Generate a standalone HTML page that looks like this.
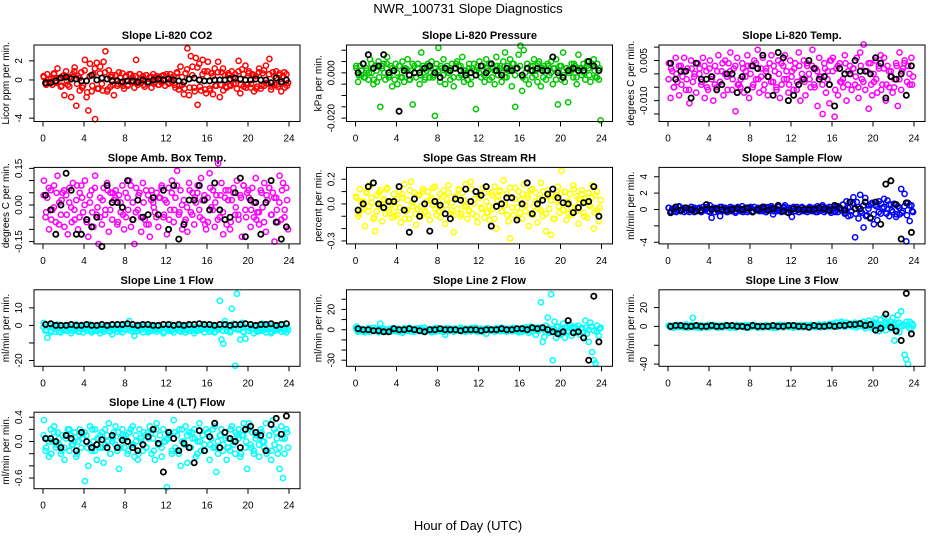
<!DOCTYPE html>
<html><head><meta charset="utf-8"><title>NWR_100731 Slope Diagnostics</title>
<style>
html,body{margin:0;padding:0;background:#fff;}
svg{display:block;font-family:"Liberation Sans",Arial,sans-serif;}
</style></head>
<body>
<svg id="chart" width="936" height="540" viewBox="0 0 936 540" xmlns="http://www.w3.org/2000/svg">
<rect x="0" y="0" width="936" height="540" fill="#fff"/>
<text x="468" y="13" text-anchor="middle" font-size="13">NWR_100731  Slope Diagnostics</text>
<text x="468" y="530" text-anchor="middle" font-size="13">Hour of Day (UTC)</text>
</svg>
<script>
const xTicks = [0,4,8,12,16,20,24];
const xTickLabels = ["0","4","8","12","16","20","24"];

const co2Color = [0.3,-0.4,0.6,-0.2,0.1,-0.5, 0.7,-0.3,1.2,0.2,-0.7,0.4, -1.6,0.9,-0.5,0.3,-1.8,0.6, 1.3,-2.7,0.4,-1.1,0.8,-0.6, 2.1,-1.8,-3.2,1.7,-1.2,0.6, -4.1,1.8,-0.9,1.4,-0.4,1.9, 3.0,-1.2,1.0,-0.7,0.5,-1.6, 0.5,-0.6,0.8,-0.3,0.7,-0.9, 0.4,-0.6,0.6,-0.2,0.3,-0.8, 2.1,-0.5,0.6,-0.3,0.4,-0.7, 0.5,-0.4,0.3,-0.8,0.6,-0.2, 0.4,-0.5,0.2,-0.3,0.5,-0.6, 0.3,-0.4,0.6,-0.2,0.4,-0.8, 0.8,-1.0,1.4,-0.5,-1.5,0.7, 3.3,-1.6,2.5,1.4,-0.8,2.3, -2.6,1.7,-1.1,2.1,0.9,-1.4, 1.9,-0.9,0.7,-1.5,1.2,-0.6, 1.9,-1.8,0.8,-1.1,0.5,-0.8, 0.7,-0.5,0.9,-0.4,0.6,-0.9, 2.0,-1.4,1.1,-0.7,1.5,-0.5, 0.9,-0.8,0.6,-1.2,0.4,-0.7, 1.2,-0.9,0.7,-0.6,1.5,-0.4, 2.2,-1.0,0.8,-0.5,0.9,-0.7, 0.7,-1.2,0.4,-0.8,0.6,-0.3];
const co2Color2 = [0.4,-0.5,0.1,-0.2, 0.6,-0.3,0.2,-0.6, 0.5,-0.1,-0.7,0.3, 0.9,-0.4,0.2,-0.8, 1.0,-1.3,0.4,-0.6, 1.2,-0.9,0.7,-1.1, 0.8,-1.0,0.3,-0.5, 0.5,-0.4,0.2,-0.6, 0.3,-0.5,0.6,-0.2, 0.4,-0.3,0.1,-0.5, 0.5,-0.2,0.3,-0.4, 0.2,-0.5,0.4,-0.1, 0.6,-0.3,0.2,-0.5, 0.7,-0.6,0.3,-0.9, 1.1,-0.8,0.5,-1.2, 1.3,-0.7,0.6,-1.0, 0.9,-1.1,0.4,-0.6, 0.8,-0.5,1.2,-0.7, 0.5,-0.6,0.3,-0.4, 0.9,-0.5,0.6,-0.8, 0.7,-0.4,0.5,-0.9, 0.8,-0.6,1.0,-0.3, 0.6,-0.7,0.4,-0.5, 0.5,-0.4,0.8,-0.6];
const co2Black = [-0.3,-0.3,-0.1,0.2,0.3,0.1,0.1,-0.1,-0.1,0.5,0.0,0.2,0.1,-0.1,-0.1,-0.2,-0.1,-0.1,-0.2,0.0,-0.2,0.0,0.1,0.0,0.1,0.0,-0.1,-0.2,0.1,0.2,0.0,-0.1,-0.1,0.0,0.0,0.0,0.1,0.2,0.1,0.0,0.0,0.1,0.0,0.0,-0.3,0.2,-0.2,0.0];

const presColor = [0.002,-0.004,0.003,-0.001,0.004,-0.002, 0.001,-0.003,0.006,0.000,-0.005,0.003, -0.004,0.005,-0.015,0.002,0.004,-0.003, 0.007,-0.002,0.003,-0.006,0.001,0.004, -0.005,0.003,-0.002,0.005,-0.004,0.002, 0.006,-0.003,0.001,-0.014,0.003,-0.002, 0.004,-0.005,0.009,0.002,-0.003,0.001, 0.003,-0.002,0.005,-0.001,-0.019,0.004, 0.011,-0.004,0.002,0.006,-0.005,0.003, 0.001,-0.003,0.004,-0.006,0.002,0.005, -0.002,0.003,0.007,-0.004,0.001,-0.003, 0.004,-0.005,0.002,0.001,-0.016,0.003, 0.005,-0.002,0.003,-0.004,0.006,0.001, -0.003,0.004,0.002,-0.005,0.007,-0.001, 0.003,-0.004,0.005,0.009,-0.002,0.001, 0.006,-0.006,0.004,-0.015,0.002,0.008, 0.012,-0.008,0.010,-0.003,0.004,-0.005, 0.003,-0.002,0.006,0.001,-0.004,0.005, -0.006,0.002,0.003,-0.003,0.004,-0.001, 0.005,-0.005,0.002,0.006,-0.014,0.003, -0.003,0.009,-0.004,0.002,-0.013,0.001, 0.004,-0.002,0.003,-0.005,0.008,0.002, -0.001,0.004,-0.003,0.005,0.002,-0.004, 0.003,0.006,-0.002,0.004,-0.003,-0.021];
const presColor2 = [0.003,-0.001,0.001,-0.002, 0.002,0.000,0.004,-0.003, 0.001,-0.002,0.003,0.000, 0.004,-0.001,0.002,-0.003, 0.000,0.003,-0.002,0.002, 0.001,-0.003,0.004,0.000, 0.002,-0.001,0.003,-0.002, 0.004,0.000,-0.002,0.002, 0.001,0.003,-0.001,0.002, 0.000,0.002,-0.002,0.004, 0.003,-0.001,0.001,0.000, 0.002,-0.002,0.004,0.001, 0.000,0.003,-0.001,0.002, 0.004,-0.002,0.001,0.003, 0.002,0.000,-0.002,0.003, 0.001,0.004,-0.001,0.002, 0.003,-0.002,0.000,0.002, 0.001,0.003,-0.001,0.004, 0.002,-0.002,0.001,0.003, 0.000,0.002,-0.003,0.001, 0.003,-0.001,0.002,0.000, 0.001,0.004,-0.002,0.002, 0.002,0.000,0.003,-0.001, 0.004,0.001,-0.002,0.002];
const presBlack = [0.000,0.004,0.008,0.002,0.003,0.008,0.000,0.001,-0.017,0.001,-0.001,0.000,0.000,0.002,0.003,0.000,-0.002,0.002,0.001,0.002,0.001,-0.001,0.000,-0.001,0.003,0.000,0.004,0.001,-0.001,0.002,0.001,0.002,-0.001,0.002,0.001,0.002,0.001,0.001,0.007,0.000,-0.002,0.001,0.002,0.001,0.001,0.005,0.003,0.001];

const tempColor = [0.004,-0.009,0.001,-0.005,0.006,-0.003, -0.008,0.003,-0.001,0.006,-0.006,0.002, -0.011,0.005,-0.003,0.000,-0.007,0.004, 0.002,-0.004,0.006,-0.009,0.001,-0.006, 0.005,-0.002,-0.010,0.003,-0.005,0.007, -0.003,0.001,-0.008,0.005,-0.001,0.004, 0.008,-0.006,0.002,-0.014,0.006,-0.004, -0.002,0.004,-0.007,0.001,0.007,-0.009, 0.003,-0.005,0.005,-0.002,0.009,-0.007, -0.001,0.006,-0.004,0.002,-0.008,0.004, 0.007,-0.003,0.001,-0.006,0.005,-0.009, -0.004,0.003,0.007,-0.002,-0.007,0.005, 0.001,-0.006,0.004,-0.003,0.008,-0.010, -0.002,0.005,-0.008,0.003,0.000,-0.005, 0.009,-0.004,0.002,-0.012,0.006,-0.001, -0.015,0.004,-0.007,0.001,-0.011,0.005, 0.006,-0.016,0.002,-0.008,0.004,-0.003, -0.005,0.007,-0.010,0.001,0.003,-0.006, 0.002,-0.004,0.006,-0.009,0.008,-0.002, 0.011,-0.006,0.001,-0.013,0.004,-0.008, -0.003,0.005,-0.007,0.002,0.007,-0.004, 0.006,-0.010,0.003,-0.005,0.001,-0.007, -0.002,0.004,-0.012,0.008,-0.006,0.002, 0.005,-0.008,0.003,-0.004,0.006,-0.001];
const tempColor2 = [-0.002,0.002,-0.005,0.000, 0.003,-0.004,0.001,-0.002, -0.006,0.002,-0.001,0.004, 0.000,-0.003,0.003,-0.005, 0.002,-0.001,-0.004,0.001, -0.003,0.004,0.000,-0.006, 0.001,-0.002,0.003,-0.004, -0.005,0.002,-0.001,0.003, 0.000,-0.004,0.004,-0.002, 0.002,-0.006,0.001,-0.001, -0.003,0.003,-0.005,0.000, 0.004,-0.002,0.001,-0.004, -0.001,0.002,-0.006,0.003, 0.000,-0.003,0.004,-0.002, 0.003,-0.005,0.001,-0.001, -0.004,0.002,-0.002,0.005, 0.001,-0.006,0.003,-0.003, -0.002,0.004,-0.004,0.000, 0.002,-0.001,-0.005,0.003, -0.003,0.001,0.004,-0.004, 0.000,-0.002,0.003,-0.006, 0.002,-0.004,0.001,-0.001, -0.005,0.003,-0.002,0.001, 0.004,-0.003,0.000,-0.004];
const tempBlack = [0.004,-0.002,0.001,0.001,-0.009,0.004,-0.002,-0.002,-0.001,-0.006,-0.004,0.000,0.000,-0.007,-0.001,-0.006,0.003,0.002,0.007,-0.001,-0.008,0.008,0.006,-0.010,-0.008,-0.004,-0.002,0.005,0.002,-0.002,-0.001,-0.004,-0.012,0.002,0.000,0.000,0.005,0.001,0.001,0.000,0.006,0.004,-0.009,-0.001,-0.002,0.000,-0.008,0.003];

const ambColor = [0.10,-0.05,0.03,-0.10,0.06,-0.02, 0.08,-0.07,0.12,0.01,-0.04,0.05, -0.09,0.04,-0.12,0.07,-0.01,0.09, -0.06,0.02,-0.10,0.05,0.08,-0.03, 0.10,-0.07,-0.13,0.01,0.06,-0.09, 0.12,-0.04,-0.16,0.03,-0.08,0.07, -0.02,0.09,-0.11,0.05,-0.06,0.02, 0.06,-0.08,0.04,-0.03,0.08,-0.10, -0.05,0.03,0.10,-0.09,0.01,-0.16, 0.07,-0.02,0.05,-0.11,0.09,-0.06, -0.08,0.04,-0.13,0.06,0.01,-0.03, 0.05,-0.09,0.03,0.08,-0.05,0.02, -0.12,0.07,-0.02,0.10,-0.07,0.03, 0.14,-0.04,0.06,-0.10,0.02,-0.06, -0.11,0.09,-0.03,0.05,-0.08,0.01, 0.08,-0.02,0.11,-0.06,0.04,-0.10, -0.07,0.13,-0.01,0.06,-0.09,0.04, 0.17,-0.05,0.09,-0.12,0.03,-0.08, 0.06,-0.10,0.02,0.07,-0.04,0.10, -0.06,0.04,-0.13,0.08,-0.02,0.05, 0.03,-0.09,0.07,-0.05,0.11,-0.03, -0.08,0.06,-0.01,0.09,-0.11,0.02, 0.07,-0.04,0.05,-0.15,0.03,-0.07, 0.12,-0.06,0.09,-0.02,0.07,-0.10];
const ambColor2 = [0.04,-0.03,0.07,-0.06, -0.01,0.05,-0.08,0.02, 0.06,-0.04,0.01,-0.07, -0.02,0.08,-0.05,0.03, 0.00,-0.06,0.04,-0.03, 0.07,-0.01,-0.05,0.02, -0.04,0.06,-0.02,0.05, 0.03,-0.07,0.01,-0.04, 0.05,-0.02,0.08,-0.06, -0.03,0.04,-0.05,0.01, 0.06,-0.08,0.02,-0.01, -0.05,0.03,0.07,-0.04, 0.01,-0.06,0.05,-0.02, 0.08,-0.03,0.00,-0.07, -0.01,0.06,-0.04,0.03, 0.05,-0.05,0.02,-0.08, 0.03,0.07,-0.02,0.01, -0.06,0.04,-0.03,0.06, 0.02,-0.07,0.05,-0.01, -0.04,0.03,0.08,-0.05, 0.06,-0.02,0.01,-0.06, -0.03,0.05,-0.07,0.04, 0.07,-0.04,0.03,-0.02, 0.01,0.06,-0.05,0.02];
const ambBlack = [0.04,-0.02,-0.12,0.00,0.13,0.06,-0.12,-0.12,-0.06,-0.09,-0.05,-0.17,0.08,0.01,0.01,-0.01,0.10,-0.06,0.02,-0.05,-0.04,0.03,-0.04,0.06,-0.10,0.08,-0.14,-0.08,0.02,0.02,0.08,0.02,-0.02,0.09,-0.02,-0.06,-0.05,0.05,0.11,-0.13,0.02,0.01,-0.12,0.01,0.10,-0.07,-0.14,-0.09];

const rhColor = [0.05,-0.10,0.12,-0.04,0.02,-0.18, 0.09,-0.06,0.15,0.01,-0.12,-0.22, 0.07,-0.02,0.11,-0.14,0.04,-0.08, 0.13,-0.05,0.02,-0.11,0.08,-0.03, -0.09,0.10,-0.15,0.05,0.16,-0.06, 0.03,-0.12,0.18,-0.02,0.09,-0.17, -0.04,0.07,-0.10,0.12,-0.07,0.02, 0.10,-0.13,0.05,-0.01,0.14,-0.09, -0.06,0.08,-0.03,0.11,-0.16,0.04, 0.15,-0.08,0.01,-0.23,0.06,-0.04, 0.12,-0.10,0.09,-0.02,0.16,-0.12, -0.05,0.18,-0.08,0.04,0.10,-0.15, 0.07,-0.03,0.13,-0.11,0.02,-0.07, -0.13,0.09,-0.04,0.14,-0.20,0.06, 0.11,-0.06,0.19,-0.01,0.08,-0.14, -0.28,0.05,-0.09,0.13,-0.03,0.10, 0.03,-0.12,0.16,-0.06,0.07,-0.18, -0.08,0.12,-0.02,0.09,-0.15,0.04, 0.17,-0.10,0.06,-0.22,0.11,-0.04, -0.25,0.08,-0.12,0.03,0.14,-0.07, 0.27,-0.05,0.10,-0.13,0.02,0.08, -0.09,0.15,-0.03,0.06,-0.16,0.01, 0.11,-0.07,0.04,-0.11,0.09,-0.02, 0.15,-0.20,0.07,-0.05,-0.14,0.03];
const rhColor2 = [0.06,-0.08,0.02,-0.04, 0.10,-0.02,0.05,-0.11, -0.06,0.09,-0.01,0.03, 0.12,-0.07,0.00,-0.10, 0.04,-0.03,0.08,-0.12, -0.05,0.11,0.01,-0.08, 0.07,-0.02,0.10,-0.06, -0.09,0.03,0.13,-0.04, 0.02,-0.11,0.06,-0.01, 0.09,-0.05,-0.09,0.04, 0.11,-0.08,0.03,-0.02, -0.06,0.12,0.00,-0.10, 0.05,-0.04,0.09,-0.07, -0.02,0.07,-0.12,0.03, 0.10,-0.06,0.01,-0.09, 0.13,-0.03,0.04,-0.11, -0.07,0.08,-0.01,0.05, 0.11,-0.09,0.02,-0.04, -0.05,0.10,-0.08,0.06, 0.03,-0.12,0.07,-0.02, 0.09,-0.05,0.01,-0.08, -0.03,0.12,-0.06,0.04, 0.08,-0.10,0.02,-0.01, 0.05,-0.07,0.10,-0.03];
const rhBlack = [-0.05,0.00,0.14,0.17,0.00,-0.03,0.02,0.02,0.14,-0.05,-0.23,0.04,-0.10,0.00,-0.22,0.02,-0.01,-0.08,-0.12,0.04,0.03,0.12,0.02,0.10,0.07,0.14,-0.18,-0.02,0.00,0.05,0.05,-0.13,0.00,0.17,-0.08,0.00,0.03,0.08,0.12,0.05,0.01,0.00,-0.07,-0.03,0.01,0.02,0.14,-0.10];

const sampleColor = [0.2,-0.3,0.1,-0.2,0.3,-0.1, 0.4,-0.2,0.1,-0.3,0.2,0.0, -0.3,0.3,-0.1,0.2,-0.2,0.1, 0.2,-0.3,0.3,-0.1,0.1,-0.2, 0.5,-1.0,0.2,-0.3,0.1,-0.2, -0.8,0.3,-0.1,0.2,-0.3,0.1, 0.3,-0.2,0.1,-0.4,0.2,0.0, -0.2,0.4,-0.1,0.2,-0.3,0.1, 0.2,-0.3,0.3,-0.1,0.1,-0.2, 0.1,-0.2,0.3,-0.3,0.2,-0.1, 0.4,-0.6,0.1,-0.2,0.3,-0.1, -0.2,0.2,0.5,-0.3,0.1,-0.1, -0.9,0.3,-0.2,0.1,-0.3,0.2, 0.3,-0.2,0.1,-0.3,0.2,-0.1, -0.1,0.2,-0.3,0.4,-0.2,0.1, 0.5,-0.3,0.2,-0.1,0.3,-0.4, 0.1,-0.2,0.4,-0.3,0.2,-0.1, 0.6,-0.5,1.0,-0.8,0.3,-0.2, 1.5,-3.4,0.9,-1.1,1.8,-0.4, -2.2,1.4,-0.7,0.5,-1.1,0.8, -1.8,0.6,-1.3,1.0,-0.5,0.2, 1.3,-0.4,1.1,-0.8,0.6,-0.3, 0.7,-0.9,0.4,-0.6,2.5,-0.2, 1.9,-3.9,0.8,-1.4,0.5,-0.3];
const sampleColor2 = [0.2,-0.2,0.1,-0.3, 0.3,-0.1,0.2,-0.2, -0.1,0.3,-0.3,0.1, 0.2,-0.2,0.0,0.3, -0.3,0.1,0.2,-0.1, 0.3,-0.2,0.1,-0.3, 0.0,0.2,-0.2,0.3, 0.1,-0.3,0.2,-0.1, 0.3,-0.2,0.0,0.2, -0.1,0.1,-0.3,0.3, 0.2,-0.2,0.1,-0.1, -0.3,0.3,0.0,0.2, 0.1,-0.2,0.3,-0.3, 0.2,0.0,-0.1,0.3, -0.2,0.2,-0.3,0.1, 0.3,-0.1,0.2,-0.2, 0.1,-0.3,0.4,0.0, 0.6,-0.4,0.2,-0.7, 0.8,-0.5,0.3,-0.2, 0.5,-0.8,0.1,0.6, -0.6,0.4,-0.3,0.7, 0.3,-0.5,0.6,-0.1, 0.7,-0.6,0.2,-0.4, 0.4,-0.7,0.5,-0.2];
const sampleBlack = [-0.4,0.3,-0.1,0.2,0.0,-0.2,-0.1,0.6,0.0,0.1,0.0,-0.1,0.0,0.1,0.0,0.2,-0.3,0.0,0.3,-0.1,0.1,0.5,-0.2,-0.4,0.1,0.0,0.0,0.0,0.0,0.2,0.1,-0.1,0.5,0.2,-0.1,0.9,0.1,0.1,0.9,-1.0,0.9,-1.8,3.1,3.5,0.6,-3.6,0.8,-2.8];

const line1Color = [1.5,-3,-7,0,-4,-1, -2,-3.5,0.5,-1,-4,-2.5, -1,-3,0,-2,-4.5,-1.5, -2.5,0.5,-3.5,-1,-2,-4, -1.5,-3,0,-2.5,-4,-1, -3,-0.5,-2,-4.5,-1,-3.5, -2,0,-3,-1.5,-5,-2.5, -1,-3.5,0.5,-2,-4,-1.5, -2.5,-0.5,2.5,-3,-1,-6, -1.5,-3,0,-2.5,-4,-1, -2,-4,-0.5,-3,-1.5,-2.5, -3.5,0,-2,-1,-4.5,-1.5, -1,-3,0.5,-2.5,-4,-2, -2,-0.5,-3.5,-1,-2.5,-4, -1.5,-3,0,-2,-4.5,-1, -3,-1,-2.5,0.5,-4,-2, -1,-3.5,-0.5,-2,-4,-1.5, -2.5,14,-8,-10.5,2.5,-3, -1,-4,9.5,1,-23,18, -2,-8,1.5,-4,-7.5,-1, -3,0.5,-2,-4.5,-1,-3.5, -1.5,-3,1,-2.5,-4,-0.5, -2,-4.5,0,-3,-1.5,-2.5, -1,-3.5,0.5,-2,-4,-2.5];
const line1Color2 = [-1,-2.5,0,-3, -2,-0.5,-3.5,-1.5, -2.5,0,-1,-3, -0.5,-2,-3.5,-1, -2,-1,0.5,-3, -1.5,-3,-0.5,-2, -2.5,-1,-3.5,0, -1,-2,-3,-0.5, -2,0,-1.5,-3.5, -3,-1,-2.5,-0.5, -1.5,-3,0,-2, -0.5,-2.5,-1,-3.5, -2,-1,-3,0, -1,-3,-2,-0.5, -2.5,0,-1.5,-3, -3,-1,-2,-0.5, -1.5,-2.5,0,-3.5, -2,-1,-3,0.5, -0.5,-3,-1.5,-2, -2.5,0,-3.5,-1, -1,-2,-0.5,-3, -3,-1.5,0,-2, -1.5,-3.5,-0.5,-2.5, -2,0,-3,-1];
const line1Black = [0.5,1.0,0.0,0.0,0.0,0.5,0.0,0.0,0.5,0.0,0.0,0.5,0.0,0.5,0.5,0.5,1.0,0.5,0.0,0.5,0.5,0.0,0.0,0.5,0.5,0.0,0.5,0.0,0.5,0.5,1.0,0.5,0.5,0.0,0.5,0.5,0.0,0.5,0.5,1.0,0.5,0.0,0.5,0.5,1.0,0.0,0.5,1.0];

const line2Color = [3,-2,1,-1.5,0.5,-2.5, -1,1.5,-2,0,2,-1, 0.5,-2.5,6,-1,1,-2, -1.5,0.5,-2,1.5,-1,0, 1,-2,0,-3,1.5,-1, -0.5,2,-1.5,0.5,-2,1, 1.5,-1,0,-2,2,-0.5, -1,0.5,-2.5,1,-1.5,2, 0,-1.5,1,-2,-5,0.5, 1.5,-1,0.5,-2,1,-0.5, -1,2,-1.5,0,-2,1, 0.5,-1.5,1.5,-1,2,-2, -0.5,1,-2,0.5,-4,1.5, 1,-1,0,-2,1.5,-0.5, -1.5,2,-1,0.5,-2,1, 0.5,-1.5,2,-1,0,-2.5, 1,-2,0.5,2.5,-1,-3, 3,-1.5,1,-5,2,0, 27,-12,-7,4,12,-3, 35,-30,8,-8,3,-5, -4,6,-8,2,-2,5, -6,3,1,-3,4,-5, 2,-7,9,-4,-12,7, -22,-30,-33,4,-6,2];
const line2Color2 = [1,-1,0.5,-1.5, -0.5,1.5,-1,0, 1,-1.5,0.5,-0.5, -1,0,1.5,-1.5, 0.5,-1,1,-0.5, -1.5,0,1,-1, 1.5,-0.5,0,-1, -1,1,-1.5,0.5, 0,-0.5,1.5,-1, 1,-1.5,0,0.5, -0.5,1,-1,1.5, 0.5,-1,0,-1.5, -1,1.5,0.5,-0.5, 1,-1,0,1.5, -1.5,0.5,1,-0.5, 0,-1,1.5,-1, 1,0,-1.5,2, -1,2,0.5,-2, 2,-2,1,3, -3,1,2,-1, 2,-2,3,-1, 1,-3,2,0, 3,-1,-2,1];
const line2Black = [1,0,0,-1,-1,-2,-2,1,0,0,1,0,-1,-2,0,0,1,0,0,0,-1,0,0,0,-1,0,0,0,1,0,0,1,1,0,2,1,2,0,-2,-4,-2,9,-3,-2,-8,-30,33,-12];

const line3Color = [1,-1,0.5,-1.5,1.5,0, -0.5,1,-1,0.5,2,-1.5, 0,1.5,9,-1,0.5,-0.5, 1,-1.5,0.5,0,-1,1.5, -1,0.5,1.5,-0.5,0,-1.5, 1,-1,0,1.5,-0.5,0.5, -1.5,1,0.5,-1,1.5,0, 0.5,-0.5,1,-1.5,0,1, -1,1.5,0,0.5,-1.5,-0.5, 1,0,-1,1.5,0.5,-1, -0.5,1,0,-1.5,1.5,0.5, 0,-1,1.5,0.5,-0.5,1, 1,-1.5,0,0.5,-1,1.5, -0.5,1,1.5,-1,0,0.5, 1.5,0,-0.5,1,2,-1, 0.5,2,1,-0.5,2.5,0, 3,1,4,0.5,2,5, 2.5,-0.5,4,1.5,3,0, 1,4,-1,2.5,3.5,0.5, 5,-2,1,6,-1,3, -3,8,2,-5,7,0, 10,-4,4,1,-2,9, -15,3,12,-6,16,2, -30,-35,-40,5,-2,1];
const line3Color2 = [0.5,-1,1,-0.5, 1.5,0,-1,0.5, -0.5,1,0,-1.5, 1,-0.5,0.5,-1, 0,1.5,-1,0.5, -1,0.5,1,0, 0.5,-1.5,0,1, -0.5,1,-1,0.5, 1.5,0,-0.5,-1, 0,1,0.5,-1.5, -1,0.5,1.5,0, 0.5,-0.5,1,-1, 1,0,-1,0.5, -0.5,1.5,0,-1, 0.5,-1,1,0, 1,0,2,-0.5, 1.5,3,0.5,2, 1,2.5,-0.5,3, 2,0,3.5,1, 1,4,-1,2, -2,3,1,5, 2,-3,4,0, 1,5,-2,3];
const line3Black = [0,1,1,0,0,1,0,0,1,0,0,1,1,0,0,-1,1,0,0,0,1,0,0,1,1,0,0,-1,1,0,0,1,0,1,1,2,2,3,1,2,-4,-2,13,-1,-5,-15,35,-8];

const line4Color = [0.35,-0.15,0.05,-0.25,0.2,0.0, 0.25,-0.1,0.15,-0.05,-0.2,0.1, -0.3,0.05,0.2,-0.15,0.1,-0.05, 0.15,-0.25,0.0,0.2,-0.1,0.05, -0.65,0.1,-0.4,0.25,-0.15,0.0, 0.2,-0.3,0.05,-0.1,0.15,-0.35, -0.05,0.1,0.3,-0.2,0.0,0.15, 0.25,-0.15,-0.45,0.05,0.2,-0.1, 0.1,-0.2,0.15,-0.05,0.25,-0.25, 0.0,-0.3,0.2,0.05,-0.15,0.1, -0.1,0.15,0.25,-0.2,0.05,-0.3, 0.3,-0.05,0.1,-0.25,0.2,0.0, -0.75,0.05,0.15,-0.15,0.35,-0.1, 0.1,-0.2,-0.4,0.2,0.0,0.25, -0.35,0.15,-0.1,0.05,0.2,-0.25, 0.0,0.3,-0.15,0.1,-0.05,0.2, 0.15,-0.3,0.05,-0.1,0.25,-0.5, -0.2,0.1,0.2,-0.05,0.15,-0.3, 0.05,-0.15,0.25,0.0,-0.2,0.1, 0.2,-0.25,0.1,0.3,-0.1,-0.45, 0.3,-0.05,0.15,-0.2,0.05,0.1, -0.25,0.2,0.0,-0.1,0.3,-0.15, 0.1,-0.3,0.35,-0.05,0.15,-0.2, -0.45,0.25,-0.6,0.05,0.2,-0.1];
const line4Color2 = [0.1,-0.1,0.0,-0.2, 0.15,-0.05,0.05,-0.15, -0.1,0.1,0.2,-0.05, 0.0,-0.2,0.1,0.05, 0.15,-0.1,-0.05,0.2, -0.15,0.05,0.1,-0.1, 0.2,0.0,-0.2,0.05, -0.05,0.15,-0.1,0.1, 0.05,-0.15,0.2,-0.05, 0.1,-0.2,0.0,0.15, -0.1,0.05,0.15,-0.15, 0.2,-0.05,-0.1,0.0, 0.05,0.1,-0.2,0.15, -0.15,0.2,0.0,-0.05, 0.1,-0.1,0.15,0.05, -0.2,0.0,0.1,-0.15, 0.15,-0.05,0.2,-0.1, 0.0,0.1,-0.15,0.05, -0.1,0.2,-0.05,0.15, 0.05,-0.2,0.1,0.0, 0.2,-0.1,-0.15,0.1, -0.05,0.15,0.0,-0.2, 0.1,-0.15,0.2,0.05, -0.1,0.05,-0.2,0.15];
const line4Black = [0.05,0.05,0.0,-0.1,0.1,0.05,-0.15,0.15,0.0,-0.1,-0.05,0.03,-0.1,0.1,-0.1,0.02,0.0,-0.1,-0.15,-0.05,0.08,0.2,-0.03,-0.5,0.15,0.05,-0.15,-0.03,-0.1,-0.35,0.18,-0.15,0.08,0.3,-0.1,0.15,0.05,0.0,-0.1,0.2,0.25,0.15,0.1,-0.15,0.28,0.38,0.12,0.42];

const panels = [
 {id:'co2', title:'Slope Li-820 CO2', ylab:'Licor ppm per min.', color:'#ff0000', c:0, r:0, ylim:[-4.35,3.66], ticks:[-4,-2,0,2], labels:{'-4':'-4','0':'0','2':'2'}, col:co2Color, col2:co2Color2, blk:co2Black},
 {id:'pressure', title:'Slope Li-820 Pressure', ylab:'kPa per min.', color:'#00c800', c:1, r:0, ylim:[-0.0215,0.0123], ticks:[-0.02,-0.015,-0.01,-0.005,0,0.005,0.01], labels:{'0':'0.000','-0.02':'-0.020'}, col:presColor, col2:presColor2, blk:presBlack},
 {id:'temp', title:'Slope Li-820 Temp.', ylab:'degrees C per min.', color:'#ff00ff', c:2, r:0, ylim:[-0.0178,0.0108], ticks:[-0.015,-0.01,-0.005,0,0.005,0.01], labels:{'0.005':'0.005','-0.01':'-0.010'}, col:tempColor, col2:tempColor2, blk:tempBlack},
 {id:'ambbox', title:'Slope Amb. Box Temp.', ylab:'degrees C per min.', color:'#ff00ff', c:0, r:1, ylim:[-0.1595,0.154], ticks:[-0.15,-0.1,-0.05,0,0.05,0.1,0.15], labels:{'0.15':'0.15','0':'0.00','-0.15':'-0.15'}, col:ambColor, col2:ambColor2, blk:ambBlack},
 {id:'rh', title:'Slope Gas Stream RH', ylab:'percent per min.', color:'#ffff00', c:1, r:1, ylim:[-0.324,0.296], ticks:[-0.3,-0.2,-0.1,0,0.1,0.2], labels:{'0.2':'0.2','0':'0.0','-0.3':'-0.3'}, col:rhColor, col2:rhColor2, blk:rhBlack},
 {id:'sample', title:'Slope Sample Flow', ylab:'ml/min per min.', color:'#0000ff', c:2, r:1, ylim:[-4.2,5.14], ticks:[-4,-2,0,2,4], labels:{'4':'4','2':'2','0':'0','-4':'-4'}, col:sampleColor, col2:sampleColor2, blk:sampleBlack},
 {id:'line1', title:'Slope Line 1 Flow', ylab:'ml/min per min.', color:'#00ffff', c:0, r:2, ylim:[-23.3,20.3], ticks:[-20,-10,0,10], labels:{'10':'10','0':'0','-20':'-20'}, col:line1Color, col2:line1Color2, blk:line1Black},
 {id:'line2', title:'Slope Line 2 Flow', ylab:'ml/min per min.', color:'#00ffff', c:1, r:2, ylim:[-36,39.3], ticks:[-30,-20,-10,0,10,20,30], labels:{'20':'20','0':'0','-30':'-30'}, col:line2Color, col2:line2Color2, blk:line2Black},
 {id:'line3', title:'Slope Line 3 Flow', ylab:'ml/min per min.', color:'#00ffff', c:2, r:2, ylim:[-42.3,38.8], ticks:[-40,-20,0,20], labels:{'20':'20','0':'0','-40':'-40'}, col:line3Color, col2:line3Color2, blk:line3Black},
 {id:'line4', title:'Slope Line 4 (LT) Flow', ylab:'ml/min per min.', color:'#00ffff', c:0, r:3, ylim:[-0.775,0.482], ticks:[-0.6,-0.4,-0.2,0,0.2,0.4], labels:{'0.4':'0.4','0':'0.0','-0.6':'-0.6'}, col:line4Color, col2:line4Color2, blk:line4Black}
];

const NS = 'http://www.w3.org/2000/svg';
const svg = document.getElementById('chart');
function mk(tag, attrs, parent){ const e=document.createElementNS(NS,tag); for(const k in attrs) e.setAttribute(k,attrs[k]); (parent||svg).appendChild(e); return e; }

panels.forEach(p=>{
  const left = 34 + 312.5*p.c, right = 300 + 312.5*p.c;
  const top = 45 + 122.4*p.r, bottom = top + 76.5;
  const x0 = 43 + 312.5*p.c, x24 = 289 + 312.5*p.c;
  const xs = h => x0 + (x24-x0)*h/24;
  const ys = v => bottom - (v - p.ylim[0])/(p.ylim[1]-p.ylim[0])*(bottom-top);
  const g = mk('g',{});
  
  

  const t = mk('text',{x:(left+right)/2, y:top-6, 'text-anchor':'middle','font-size':'11','font-weight':'bold'}, g);
  t.textContent = p.title;
  
  

  const pts = mk('g',{}, g);
  
  
  [p.col, p.col2].forEach((arr,k)=>{
    arr.forEach((v,i)=>{
      const h = (i + (k ? 0.25 : 0.5))*24/arr.length;
      const c = mk('circle',{cx:xs(h).toFixed(1), cy:ys(v).toFixed(1), r:2.6, fill:'none', stroke:p.color, 'stroke-width':1.5}, pts);
      
      
    });
  });
  const bpts = mk('g',{}, g);
  
  
  p.blk.forEach((v,i)=>{
    const h = (i+0.5)*24/p.blk.length;
    const c = mk('circle',{cx:xs(h).toFixed(1), cy:ys(v).toFixed(1), r:2.6, fill:'none', stroke:'#000', 'stroke-width':1.8}, bpts);
    
    
  });

  const box = mk('rect',{x:left, y:top, width:right-left, height:bottom-top, fill:'none', stroke:'#000', 'stroke-width':1}, g);
  
  

  const xa = mk('g',{}, g);
  
  
  xTicks.forEach((tv,i)=>{
    const x = xs(tv);
    mk('line',{x1:x,x2:x,y1:bottom,y2:bottom+5,stroke:'#000','stroke-width':1}, xa);
    const lt = mk('text',{x:x, y:bottom+20, 'text-anchor':'middle','font-size':'10'}, xa);
    lt.textContent = xTickLabels[i];
  });

  const ya = mk('g',{}, g);
  
  
  p.ticks.forEach(tv=>{
    const y = ys(tv);
    mk('line',{x1:left-5,x2:left,y1:y,y2:y,stroke:'#000','stroke-width':1}, ya);
    const key = String(tv);
    if(p.labels[key]!==undefined){
      const lx = left-12;
      const lt = mk('text',{x:lx, y:y, 'text-anchor':'middle','font-size':'10', transform:'rotate(-90 '+lx+' '+y+')'}, ya);
      lt.textContent = p.labels[key];
    }
  });
  const yl = left-25, ym = (top+bottom)/2;
  const yt = mk('text',{x:yl, y:ym, 'text-anchor':'middle','font-size':'10', transform:'rotate(-90 '+yl+' '+ym+')'}, g);
  yt.textContent = p.ylab;
  
  
});
</script>
</body></html>
